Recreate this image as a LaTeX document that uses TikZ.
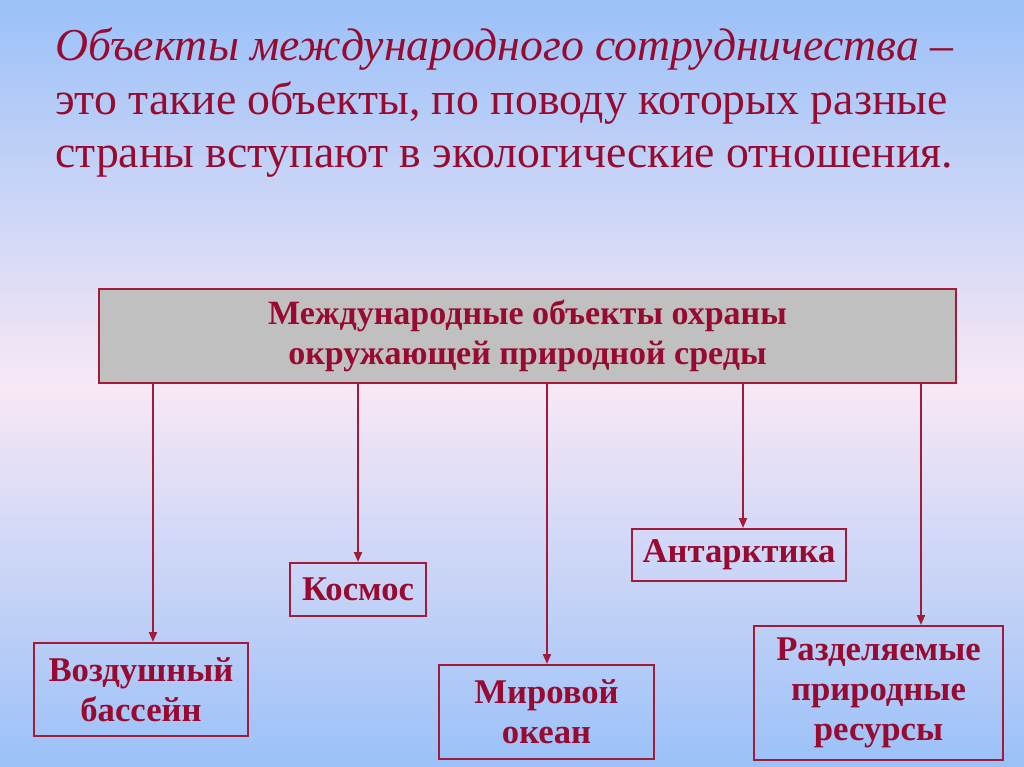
\documentclass[tikz,border=0pt]{standalone}
\usepackage{fontspec}
\setmainfont{Liberation Serif}
\usetikzlibrary{arrows.meta,calc}
\definecolor{dred}{HTML}{980A30}
\definecolor{bred}{HTML}{A01C38}
\definecolor{bgblue}{HTML}{9AC1F8}
\definecolor{bgpink}{HTML}{F8E8F6}
\definecolor{boxgray}{HTML}{C0C0C0}
\tikzset{
  heading/.style={anchor=base west, inner sep=0pt, text=dred, font=\fontsize{34.3}{38}\selectfont},
  mainbox/.style={draw=bred, line width=2.2pt, fill=boxgray, minimum width=857*0.75pt, minimum height=94*0.75pt, inner sep=0pt, align=center, text=dred, font=\bfseries\fontsize{25.5}{30}\selectfont},
  leaf/.style={draw=bred, line width=1.5pt, inner sep=0pt, align=center, text=dred, font=\bfseries\fontsize{26}{30}\selectfont},
  arr/.style={draw=bred, line width=1.5pt, -{Triangle[length=7.5pt, width=6pt]}}
}
\begin{document}
\begin{tikzpicture}[x=0.75pt, y=-0.75pt]
\useasboundingbox (0,0) rectangle (1024,767);
\shade[top color=bgblue, bottom color=bgpink] (0,0) rectangle (1024,385);
\shade[top color=bgpink, bottom color=bgblue] (0,385) rectangle (1024,767);
% heading
\node[heading] (h1) at (55,61) {\itshape Объекты международного сотрудничества –};
\node[heading] (h2) at (55,114) {это такие объекты, по поводу которых разные};
\node[heading] (h3) at (55,167) {страны вступают в экологические отношения.};
% main box
\node[mainbox] (main) at (527.5,336) {Международные объекты охраны\\окружающей природной среды};
% leaves
\node[leaf, minimum width=214*0.75pt, minimum height=93*0.75pt] (air) at (141,689.5) {Воздушный\\бассейн};
\node[leaf, minimum width=136*0.75pt, minimum height=53*0.75pt] (space) at (358,589.5) {Космос};
\node[leaf, minimum width=215*0.75pt, minimum height=94*0.75pt] (ocean) at (546.5,712) {Мировой\\океан};
\node[leaf, minimum width=214*0.75pt, minimum height=52*0.75pt] (ant) at (739,555) {Антарктика};
\node[leaf, minimum width=249*0.75pt, minimum height=134*0.75pt] (res) at (878.5,693) {Разделяемые\\природные\\ресурсы};
% arrows
\coordinate (c1) at (153,0);
\coordinate (c2) at (358,0);
\coordinate (c3) at (547,0);
\coordinate (c4) at (743,0);
\coordinate (c5) at (921,0);
\draw[arr] (main.south -| c1) -- (air.north -| c1);
\draw[arr] (main.south -| c2) -- (space.north -| c2);
\draw[arr] (main.south -| c3) -- (ocean.north -| c3);
\draw[arr] (main.south -| c4) -- (ant.north -| c4);
\draw[arr] (main.south -| c5) -- (res.north -| c5);
\end{tikzpicture}
\end{document}
